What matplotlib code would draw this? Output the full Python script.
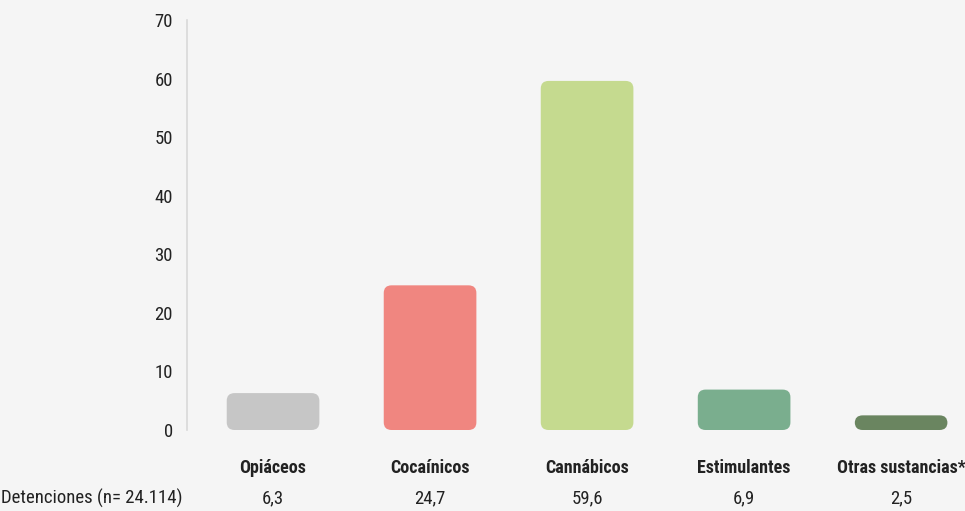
import matplotlib

matplotlib.use("Agg")

import matplotlib.pyplot as plt  # noqa: E402
import matplotlib.transforms as mtransforms  # noqa: E402
from matplotlib.patches import FancyBboxPatch  # noqa: E402

categories = ["Opiáceos", "Cocaínicos", "Cannábicos", "Estimulantes", "Otras sustancias*"]
values = [6.3, 24.7, 59.6, 6.9, 2.5]
value_labels = ["6,3", "24,7", "59,6", "6,9", "2,5"]
row_label = "Detenciones (n= 24.114)"
colors = ["#c6c6c6", "#f08680", "#c5da8f", "#7aae8e", "#6a8560"]

plt.rcParams["font.family"] = ["Roboto Condensed", "Roboto", "DejaVu Sans"]
BG = "#f5f5f5"
TXT = "#222222"

fig = plt.figure(figsize=(9.65, 5.11), dpi=100, facecolor=BG)
ax = fig.add_axes([187 / 965, 81 / 511, (960 - 187) / 965, 410 / 511], facecolor=BG)

x = list(range(len(categories)))
bars = ax.bar(x, values, width=0.59, color=colors)

# swap the plain rectangles for rounded ones of the same size
for rect, c in zip(bars, colors):
    rect.set_visible(False)
    fb = FancyBboxPatch(
        (rect.get_x(), rect.get_y()), rect.get_width(), rect.get_height(),
        boxstyle="round,pad=0,rounding_size=0.05", mutation_aspect=26,
        facecolor=c, edgecolor="none",
    )
    ax.add_patch(fb)

ax.set_xlim(-0.548, 4.375)
ax.set_ylim(0, 70)
ax.set_yticks(range(0, 71, 10))
ax.tick_params(axis="y", length=0, pad=10, labelsize=13.5, labelcolor=TXT)
ax.set_xticks(x)
ax.set_xticklabels(categories, fontsize=13, fontweight="bold", color=TXT)
ax.tick_params(axis="x", length=0, pad=21)

for side in ["top", "right", "bottom"]:
    ax.spines[side].set_visible(False)
ax.spines["left"].set_color("#d9d9d9")
ax.spines["left"].set_linewidth(1.2)

# data row under the chart
trans = mtransforms.blended_transform_factory(ax.transData, fig.transFigure)
for xi, lab in zip(x, value_labels):
    ax.text(xi, 13 / 511, lab, transform=trans, ha="center", va="center",
            fontsize=13.5, color=TXT)
fig.text(1 / 965, 13 / 511, row_label, ha="left", va="center", fontsize=13.5, color=TXT)

fig.savefig("out.png", dpi=100, facecolor=BG)
